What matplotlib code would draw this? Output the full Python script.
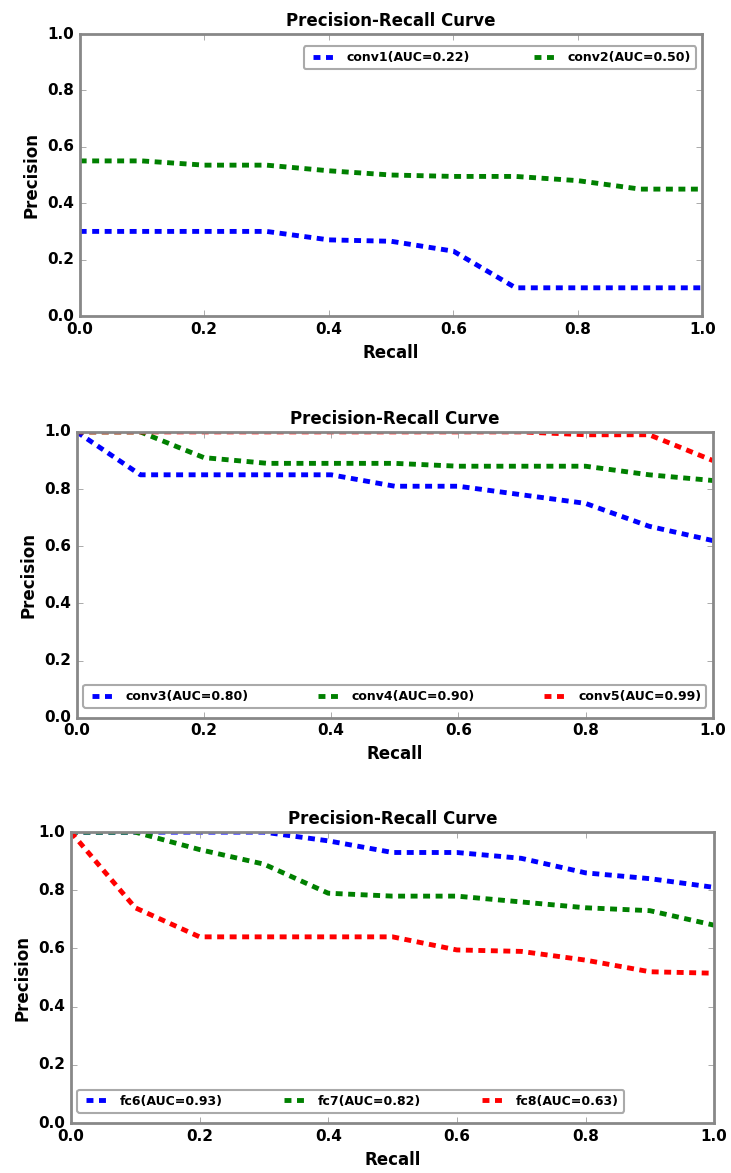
import numpy as np
import matplotlib
matplotlib.use("Agg")
import matplotlib.pyplot as plt

# Recall points shared by all curves
recall = [0.0, 0.1, 0.2, 0.3, 0.4, 0.5, 0.6, 0.7, 0.8, 0.9, 1.0]

# Panel 1: conv1, conv2
conv1 = [0.30, 0.30, 0.30, 0.30, 0.27, 0.265, 0.23, 0.10, 0.10, 0.10, 0.10]
conv2 = [0.55, 0.55, 0.535, 0.535, 0.515, 0.50, 0.495, 0.495, 0.48, 0.45, 0.45]

# Panel 2: conv3, conv4, conv5
conv3 = [1.00, 0.85, 0.85, 0.85, 0.85, 0.81, 0.81, 0.78, 0.75, 0.67, 0.62]
conv4 = [1.00, 1.00, 0.91, 0.89, 0.89, 0.89, 0.88, 0.88, 0.88, 0.85, 0.83]
conv5 = [1.00, 1.00, 1.00, 1.00, 1.00, 1.00, 1.00, 1.00, 0.99, 0.99, 0.90]

# Panel 3: fc6, fc7, fc8
fc6 = [1.00, 1.00, 1.00, 1.00, 0.97, 0.93, 0.93, 0.91, 0.86, 0.84, 0.81]
fc7 = [1.00, 1.00, 0.94, 0.89, 0.79, 0.78, 0.78, 0.76, 0.74, 0.73, 0.68]
fc8 = [1.00, 0.74, 0.64, 0.64, 0.64, 0.64, 0.595, 0.59, 0.56, 0.52, 0.515]

panels = [
    {"curves": [(conv1, "b", "conv1(AUC=0.22)"), (conv2, "g", "conv2(AUC=0.50)")],
     "rect": [0.109, 0.7306, 0.852, 0.2404], "ncol": 2,
     "bbox": (0.36, 0.85, 0.63, 0.13)},
    {"curves": [(conv3, "b", "conv3(AUC=0.80)"), (conv4, "g", "conv4(AUC=0.90)"),
                (conv5, "r", "conv5(AUC=0.99)")],
     "rect": [0.105, 0.388, 0.870, 0.2438], "ncol": 3,
     "bbox": (0.01, 0.02, 0.98, 0.11)},
    {"curves": [(fc6, "b", "fc6(AUC=0.93)"), (fc7, "g", "fc7(AUC=0.82)"),
                (fc8, "r", "fc8(AUC=0.63)")],
     "rect": [0.097, 0.0426, 0.880, 0.248], "ncol": 3,
     "bbox": (0.01, 0.02, 0.85, 0.11)},
]

plt.style.use("classic")
plt.rcParams["font.family"] = "DejaVu Sans"
plt.rcParams["font.weight"] = "bold"

fig = plt.figure(figsize=(7.31, 11.73), dpi=100, facecolor="white")

for p in panels:
    ax = fig.add_axes(p["rect"])
    for y, c, lab in p["curves"]:
        ax.plot(recall, y, "--", color=c, linewidth=3.5, dashes=(5, 4), label=lab)
    ax.set_xlim(0, 1)
    ax.set_ylim(0, 1)
    ax.set_xticks(np.arange(0, 1.01, 0.2))
    ax.set_yticks(np.arange(0, 1.01, 0.2))
    ax.tick_params(labelsize=11, direction="in", length=4, color="#888888")
    for lbl in ax.get_xticklabels() + ax.get_yticklabels():
        lbl.set_fontweight("bold")
    for s in ax.spines.values():
        s.set_color("#888888")
        s.set_linewidth(2)
    ax.set_title("Precision-Recall Curve", fontsize=12, fontweight="bold", pad=6)
    ax.set_xlabel("Recall", fontsize=12, fontweight="bold")
    ax.set_ylabel("Precision", fontsize=12, fontweight="bold")
    leg = ax.legend(loc="center", bbox_to_anchor=p["bbox"], mode="expand",
                    ncol=p["ncol"], fancybox=True, handlelength=2.2,
                    borderaxespad=0.0, prop={"weight": "bold", "size": 9})
    leg.get_frame().set_edgecolor("#aaaaaa")
    leg.get_frame().set_linewidth(1.5)

fig.savefig("out.png", dpi=100, facecolor="white")
